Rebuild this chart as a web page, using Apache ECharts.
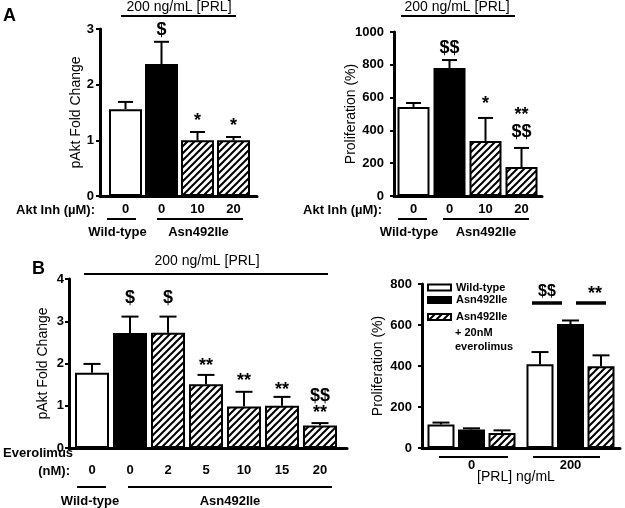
<!DOCTYPE html>
<html><head><meta charset="utf-8">
<script src="https://cdn.jsdelivr.net/npm/echarts@6/dist/echarts.min.js"></script>
<style>html,body{margin:0;padding:0;background:#fff}#c{width:625px;height:508px}</style>
</head><body><div id="c"></div><script>
// ---------------- data ----------------
const a1Doses = ['0', '0', '10', '20'];
const a1Genotype = ['Wild-type', 'Asn492Ile', 'Asn492Ile', 'Asn492Ile'];
const a1Values = [1.56, 2.37, 1.0, 1.0];
const a1Errors = [0.13, 0.40, 0.15, 0.06];
const a1Sig = ['', '$', '*', '*'];

const a2Doses = ['0', '0', '10', '20'];
const a2Genotype = ['Wild-type', 'Asn492Ile', 'Asn492Ile', 'Asn492Ile'];
const a2Values = [543, 780, 335, 177];
const a2Errors = [24, 49, 141, 116];
const a2Sig = ['', '$$', '*', '**\n$$'];

const b1Doses = ['0', '0', '2', '5', '10', '15', '20'];
const b1Genotype = ['Wild-type', 'Asn492Ile', 'Asn492Ile', 'Asn492Ile', 'Asn492Ile', 'Asn492Ile', 'Asn492Ile'];
const b1Values = [1.78, 2.72, 2.73, 1.51, 0.98, 1.0, 0.53];
const b1Errors = [0.21, 0.39, 0.38, 0.22, 0.35, 0.21, 0.06];
const b1Sig = ['', '$', '$', '**', '**', '**', '$$\n**'];

const b2Prl = ['0', '200'];
const b2Names = ['Wild-type', 'Asn492Ile', 'Asn492Ile + 20nM everolimus'];
const b2WildType = [115, 408];
const b2WildTypeErr = [9, 60];
const b2Asn = [90, 605];
const b2AsnErr = [6, 17];
const b2Evero = [73, 399];
const b2EveroErr = [13, 53];

// ---------------- styles ----------------
const FONT = '"Liberation Sans", Arial, sans-serif';
function hatchCanvas() {
  const s = 7, c = document.createElement('canvas');
  c.width = s; c.height = s;
  const g = c.getContext('2d');
  g.fillStyle = '#fff'; g.fillRect(0, 0, s, s);
  g.strokeStyle = '#000'; g.lineWidth = 2;
  g.beginPath();
  g.moveTo(-1, s + 1); g.lineTo(s + 1, -1);
  g.moveTo(-1, 1); g.lineTo(1, -1);
  g.moveTo(s - 1, s + 1); g.lineTo(s + 1, s - 1);
  g.stroke();
  return c;
}
const HATCH = { image: hatchCanvas(), repeat: 'repeat' };
function fillFor(genotype, dose) {
  if (genotype === 'Wild-type') return '#fff';
  if (dose === '0') return '#000';
  return HATCH;
}
const a1SigGap = [0, 3, 2, 2];
const a2SigGap = [0, 4, 5, 7];
const b1SigGap = [0, 10, 10, 0, 2, -2, 2];

function frameX(grid) {
  return { type: 'value', gridIndex: grid, min: 0, max: 1,
    axisLine: { show: true, onZero: false, lineStyle: { color: '#000', width: 3 } },
    axisTick: { show: false }, axisLabel: { show: false }, splitLine: { show: false } };
}
function frameY(grid, max, interval, name, nameGap, margin) {
  return { type: 'value', gridIndex: grid, min: 0, max: max, interval: interval,
    name: name, nameLocation: 'middle', nameGap: nameGap, nameRotate: 90, nameMoveOverlap: false,
    nameTextStyle: { fontFamily: FONT, fontSize: 14, color: '#000', fontWeight: 'normal' },
    axisLine: { show: true, lineStyle: { color: '#000', width: 3 } },
    axisTick: { show: true, inside: false, length: 4, lineStyle: { color: '#000', width: 2 } },
    axisLabel: { fontFamily: FONT, fontSize: 13, fontWeight: 'bold', color: '#000', margin: margin,
      formatter: v => String(v) },
    splitLine: { show: false } };
}
function barX(grid, cats, margin, showLine) {
  return { type: 'category', gridIndex: grid, data: cats,
    axisLine: { show: !!showLine, lineStyle: { color: '#000', width: 3 } },
    axisTick: { show: false },
    axisLabel: { fontFamily: FONT, fontSize: 13, fontWeight: 'bold', color: '#000', margin: margin, interval: 0 },
    splitLine: { show: false } };
}
function barY(grid, max) {
  return { type: 'value', gridIndex: grid, min: 0, max: max, show: false, splitLine: { show: false } };
}
function errSeries(axisIdx, values, errors, sig, gaps, offsetPx, capW, sigFont) {
  return {
    type: 'custom', xAxisIndex: axisIdx, yAxisIndex: axisIdx, z: 5, silent: true,
    data: values.map((v, i) => [i, v, errors[i]]),
    renderItem: function (params, api) {
      const i = api.value(0), v = api.value(1), e = api.value(2);
      const b = api.coord([i, v]);
      const t = api.coord([i, v + e]);
      const x = b[0] + offsetPx;
      const children = [
        { type: 'line', shape: { x1: x, y1: b[1], x2: x, y2: t[1] }, style: { stroke: '#000', lineWidth: 2 } },
        { type: 'line', shape: { x1: x - capW / 2, y1: t[1], x2: x + capW / 2, y2: t[1] }, style: { stroke: '#000', lineWidth: 2 } }
      ];
      const s = sig ? sig[params.dataIndex] : '';
      if (s) {
        children.push({ type: 'text', style: { text: s, x: x, y: t[1] - gaps[params.dataIndex],
          align: 'center', verticalAlign: 'bottom', font: sigFont, fill: '#000', lineHeight: 17 } });
      }
      return { type: 'group', children: children };
    }
  };
}
function barSeries(axisIdx, values, genotype, doses, width) {
  return { type: 'bar', xAxisIndex: axisIdx, yAxisIndex: axisIdx, barWidth: width, silent: true,
    data: values.map((v, i) => ({ value: v, itemStyle: { color: fillFor(genotype[i], doses[i]) } })),
    itemStyle: { borderColor: '#000', borderWidth: 2 } };
}

const SIGFONT = 'bold 18px ' + FONT;
function txt(text, x, y, opts) {
  opts = opts || {};
  return { type: 'text', silent: true, style: { text: text, x: x, y: y,
    align: opts.align || 'center', verticalAlign: 'middle',
    font: (opts.weight || 'bold') + ' ' + (opts.size || 13) + 'px ' + FONT, fill: '#000' } };
}
function hl(x1, x2, y, w) {
  return { type: 'line', silent: true, shape: { x1: x1, y1: y, x2: x2, y2: y }, style: { stroke: '#000', lineWidth: w || 2 } };
}

const grids = [
  { left: 100, top: 29, width: 157, height: 167 },
  { left: 107.5, top: 29, width: 144, height: 167 },
  { left: 394, top: 32, width: 148, height: 164 },
  { left: 395.5, top: 32, width: 144, height: 164 },
  { left: 69, top: 279, width: 278, height: 169 },
  { left: 73, top: 279, width: 266, height: 169 },
  { left: 422, top: 284, width: 198, height: 164 }
].map(g => Object.assign({ outerBoundsMode: 'none', containLabel: false }, g));

const option = {
  animation: false,
  backgroundColor: '#fff',
  grid: grids,
  xAxis: [
    frameX(0), barX(1, a1Doses, 7),
    frameX(2), barX(3, a2Doses, 7),
    frameX(4), barX(5, b1Doses, 16),
    barX(6, b2Prl, 11, true)
  ],
  yAxis: [
    frameY(0, 3, 1, 'pAkt Fold Change', 17, 6), barY(1, 3),
    frameY(2, 1000, 200, 'Proliferation (%)', 36, 10), barY(3, 1000),
    frameY(4, 4, 1, 'pAkt Fold Change', 19, 5), barY(5, 4),
    frameY(6, 800, 200, 'Proliferation (%)', 37, 10)
  ],
  legend: [
    { data: [b2Names[0], b2Names[1]], orient: 'vertical', left: 427, top: 282, padding: 0,
      itemWidth: 23, itemHeight: 6, itemGap: 1.5, icon: 'rect', selectedMode: false,
      textStyle: { fontFamily: FONT, fontSize: 11, fontWeight: 'bold', color: '#000' } },
    { data: [b2Names[2]], orient: 'vertical', left: 427, top: 311.5, padding: 0,
      itemWidth: 23, itemHeight: 6, icon: 'rect', selectedMode: false,
      formatter: n => n.split(' + ')[0],
      textStyle: { fontFamily: FONT, fontSize: 11, fontWeight: 'bold', color: '#000' } }
  ],
  series: [
    barSeries(1, a1Values, a1Genotype, a1Doses, 33),
    errSeries(1, a1Values, a1Errors, a1Sig, a1SigGap, 0, 15, SIGFONT),
    barSeries(3, a2Values, a2Genotype, a2Doses, 32),
    errSeries(3, a2Values, a2Errors, a2Sig, a2SigGap, 0, 15, SIGFONT),
    barSeries(5, b1Values, b1Genotype, b1Doses, 34),
    errSeries(5, b1Values, b1Errors, b1Sig, b1SigGap, 0, 17, SIGFONT),
    { type: 'bar', name: b2Names[0], xAxisIndex: 6, yAxisIndex: 6, barWidth: 27, barGap: '13%', data: b2WildType,
      itemStyle: { color: '#fff', borderColor: '#000', borderWidth: 2 } },
    { type: 'bar', name: b2Names[1], xAxisIndex: 6, yAxisIndex: 6, barWidth: 27, barGap: '13%', data: b2Asn,
      itemStyle: { color: '#000', borderColor: '#000', borderWidth: 2 } },
    { type: 'bar', name: b2Names[2], xAxisIndex: 6, yAxisIndex: 6, barWidth: 27, barGap: '13%', data: b2Evero,
      itemStyle: { color: HATCH, borderColor: '#000', borderWidth: 2 } },
    errSeries(6, b2WildType, b2WildTypeErr, null, null, -30.5, 17, SIGFONT),
    errSeries(6, b2Asn, b2AsnErr, null, null, 0, 17, SIGFONT),
    errSeries(6, b2Evero, b2EveroErr, null, null, 30.5, 17, SIGFONT)
  ],
  graphic: [
    txt('A', 3, 16, { align: 'left', size: 18 }),
    txt('B', 32, 269, { align: 'left', size: 18 }),
    // panel A1
    txt('200 ng/mL [PRL]', 179, 7, { weight: 'normal', size: 14 }), hl(121, 236, 16),
    txt('Akt Inh (µM):', 95, 210, { align: 'right' }),
    hl(107, 136, 219), hl(157, 243, 219),
    txt('Wild-type', 117.5, 232), txt('Asn492Ile', 198.5, 232),
    // panel A2
    txt('200 ng/mL [PRL]', 457, 7, { weight: 'normal', size: 14 }), hl(401, 515, 16),
    txt('Akt Inh (µM):', 382, 210, { align: 'right' }),
    hl(398, 427, 219), hl(443, 529, 219),
    txt('Wild-type', 409, 232), txt('Asn492Ile', 486, 232),
    // panel B1
    txt('200 ng/mL [PRL]', 207, 261, { weight: 'normal', size: 14 }), hl(84, 328, 274),
    txt('Everolimus', 3, 453, { align: 'left' }),
    txt('(nM):', 70, 471, { align: 'right' }),
    hl(77, 106, 487), hl(128, 332, 487),
    txt('Wild-type', 90, 501), txt('Asn492Ile', 230, 501),
    // panel B2
    txt('+ 20nM', 455, 333, { align: 'left', size: 11 }),
    txt('everolimus', 455, 346.5, { align: 'left', size: 11 }),
    txt('$$', 547, 292, { size: 16 }), hl(532, 562, 303, 3.5),
    txt('**', 595, 294, { size: 18 }), hl(576, 606, 303, 3.5),
    hl(439, 508, 457), hl(533, 600, 457),
    txt('[PRL] ng/mL', 516, 477, { weight: 'normal', size: 14 })
  ]
};
const chart = echarts.init(document.getElementById('c'), null, { renderer: 'canvas' });
chart.setOption(option);
</script></body></html>
